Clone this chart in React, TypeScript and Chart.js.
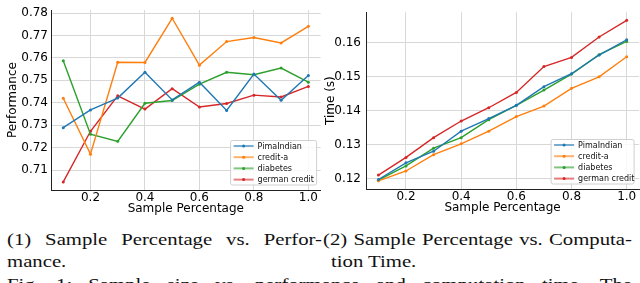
import React, { useEffect, useRef } from "react";
import { Chart, registerables } from "chart.js";

Chart.register(...registerables);

const samplePct = [0.1, 0.2, 0.3, 0.4, 0.5, 0.6, 0.7, 0.8, 0.9, 1.0];
const seriesNames = ["PimaIndian", "credit-a", "diabetes", "german credit"];
const seriesColors = ["#1f77b4", "#ff7f0e", "#2ca02c", "#d62728"];

const perfPima = [0.7289, 0.7368, 0.7421, 0.7536, 0.7413, 0.7492, 0.7366, 0.7528, 0.7411, 0.7522];
const perfCreditA = [0.742, 0.7171, 0.7581, 0.758, 0.7777, 0.7568, 0.7673, 0.7691, 0.7667, 0.7741];
const perfDiabetes = [0.7588, 0.726, 0.7228, 0.7398, 0.741, 0.7483, 0.7536, 0.7525, 0.7555, 0.7492];
const perfGerman = [0.7047, 0.7273, 0.7431, 0.7372, 0.7463, 0.7381, 0.7397, 0.7434, 0.7426, 0.7473];

const timePima = [0.1198, 0.1247, 0.1281, 0.134, 0.1377, 0.1416, 0.1471, 0.1509, 0.1564, 0.1609];
const timeCreditA = [0.1194, 0.1223, 0.1271, 0.1303, 0.134, 0.1383, 0.1414, 0.1466, 0.15, 0.1559];
const timeDiabetes = [0.1196, 0.1238, 0.129, 0.1321, 0.1374, 0.1416, 0.1461, 0.1508, 0.1565, 0.1604];
const timeGerman = [0.1211, 0.1263, 0.1321, 0.137, 0.1409, 0.1454, 0.153, 0.1557, 0.1617, 0.1666];

const xTicks = [0.2, 0.4, 0.6, 0.8, 1.0];
const perfTicks = [0.71, 0.72, 0.73, 0.74, 0.75, 0.76, 0.77, 0.78];
const timeTicks = [0.12, 0.13, 0.14, 0.15, 0.16];

const xTitle = "Sample Percentage";
const perfTitle = "Performance";
const timeTitle = "Time (s)";

const caption1a = "(1) Sample Percentage vs. Perfor-";
const caption1b = "mance.";
const caption2a = "(2) Sample Percentage vs. Computa-";
const caption2b = "tion Time.";
const figCaption = "Fig. 1: Sample size vs. performance and computation time. The";

const FONT = "'DejaVu Sans', sans-serif";

const legendPlugin = {
  id: "mplLegend",
  afterDatasetsDraw(chart: any, _args: any, opts: any) {
    const { ctx, chartArea } = chart;
    const w = opts.width;
    const h = opts.height;
    const x = chartArea.right - opts.right - w;
    const y = chartArea.bottom - opts.bottom - h;
    ctx.save();
    ctx.beginPath();
    const r = 2;
    ctx.moveTo(x + r, y);
    ctx.lineTo(x + w - r, y);
    ctx.arcTo(x + w, y, x + w, y + r, r);
    ctx.lineTo(x + w, y + h - r);
    ctx.arcTo(x + w, y + h, x + w - r, y + h, r);
    ctx.lineTo(x + r, y + h);
    ctx.arcTo(x, y + h, x, y + h - r, r);
    ctx.lineTo(x, y + r);
    ctx.arcTo(x, y, x + r, y, r);
    ctx.closePath();
    ctx.fillStyle = "rgba(255,255,255,0.85)";
    ctx.fill();
    ctx.strokeStyle = "#d0d0d0";
    ctx.lineWidth = 1;
    ctx.stroke();
    ctx.font = `8px ${FONT}`;
    ctx.textBaseline = "middle";
    ctx.textAlign = "left";
    chart.data.datasets.forEach((ds: any, i: number) => {
      const cy = y + 5.5 + i * 11.2;
      ctx.globalAlpha = 0.6;
      ctx.strokeStyle = ds.borderColor;
      ctx.lineWidth = 2;
      ctx.beginPath();
      ctx.moveTo(x + 3, cy);
      ctx.lineTo(x + 23, cy);
      ctx.stroke();
      ctx.globalAlpha = 1;
      ctx.fillStyle = ds.borderColor;
      ctx.beginPath();
      ctx.arc(x + 13, cy, 1.5, 0, Math.PI * 2);
      ctx.fill();
      ctx.fillStyle = "#111";
      ctx.fillText(ds.label, x + 27, cy + 0.5);
    });
    ctx.restore();
  },
};

type ChartSpec = {
  series: number[][];
  yTicks: number[];
  yMin: number;
  yMax: number;
  yTitle: string;
  yWidth: number;
  yTickPad: number;
  yTitlePadTop: number;
  xHeight: number;
  xTitlePadBottom: number;
  padding: { left: number; right: number; top: number; bottom: number };
  legend: { width: number; height: number; right: number; bottom: number };
};

function LineChart({ spec, width, height }: { spec: ChartSpec; width: number; height: number }) {
  const ref = useRef<HTMLCanvasElement | null>(null);
  useEffect(() => {
    if (!ref.current) return;
    const datasets = spec.series.map((vals, i) => ({
      label: seriesNames[i],
      data: samplePct.map((x, j) => ({ x, y: vals[j] })),
      borderColor: seriesColors[i],
      backgroundColor: seriesColors[i],
      pointBackgroundColor: seriesColors[i],
      borderWidth: 1.4,
      pointRadius: 1.5,
      pointBorderWidth: 0,
      tension: 0,
      fill: false,
    }));
    const chart = new Chart(ref.current, {
      type: "line",
      data: { datasets },
      plugins: [legendPlugin],
      options: {
        animation: false,
        responsive: false,
        maintainAspectRatio: false,
        layout: { padding: spec.padding, autoPadding: false } as any,
        plugins: {
          legend: { display: false },
          tooltip: { enabled: false },
          mplLegend: spec.legend,
        } as any,
        scales: {
          x: {
            type: "linear",
            min: 0.055,
            max: 1.045,
            afterBuildTicks: (scale: any) => {
              scale.ticks = xTicks.map((v) => ({ value: v }));
            },
            afterFit: (scale: any) => {
              scale.height = spec.xHeight;
            },
            ticks: {
              padding: 1,
              color: "#000",
              font: { family: FONT, size: 12 },
              maxRotation: 0,
              callback: (v: any) => Number(v).toFixed(1),
            },
            grid: { color: "#d8d8d8", lineWidth: 1, drawTicks: false },
            border: { display: true, color: "#222", width: 1 },
            title: {
              display: true,
              text: xTitle,
              color: "#000",
              font: { family: FONT, size: 12 },
              padding: { top: 0, bottom: spec.xTitlePadBottom },
            },
          },
          y: {
            type: "linear",
            min: spec.yMin,
            max: spec.yMax,
            afterBuildTicks: (scale: any) => {
              scale.ticks = spec.yTicks.map((v) => ({ value: v }));
            },
            afterFit: (scale: any) => {
              scale.width = spec.yWidth;
            },
            ticks: {
              padding: spec.yTickPad,
              color: "#000",
              font: { family: FONT, size: 12 },
              callback: (v: any) => Number(v).toFixed(2),
            },
            grid: { color: "#d8d8d8", lineWidth: 1, drawTicks: false },
            border: { display: true, color: "#222", width: 1 },
            title: {
              display: true,
              text: spec.yTitle,
              color: "#000",
              font: { family: FONT, size: 12 },
              padding: { top: spec.yTitlePadTop, bottom: 0 },
            },
          },
        },
      } as any,
    });
    return () => chart.destroy();
  }, [spec, width, height]);
  return <canvas ref={ref} width={width} height={height} style={{ width, height, display: "block" }} />;
}

const perfSpec: ChartSpec = {
  series: [perfPima, perfCreditA, perfDiabetes, perfGerman],
  yTicks: perfTicks,
  yMin: 0.7011,
  yMax: 0.7813,
  yTitle: perfTitle,
  yWidth: 51,
  yTickPad: 3,
  yTitlePadTop: 6,
  xHeight: 28,
  xTitlePadBottom: 2.3,
  padding: { left: 0, right: 1.4, top: 4.3, bottom: 0 },
  legend: { width: 86, height: 44.5, right: 4, bottom: 5 },
};

const timeSpec: ChartSpec = {
  series: [timePima, timeCreditA, timeDiabetes, timeGerman],
  yTicks: timeTicks,
  yMin: 0.117,
  yMax: 0.169,
  yTitle: timeTitle,
  yWidth: 44,
  yTickPad: 5,
  yTitlePadTop: 1.8,
  xHeight: 29,
  xTitlePadBottom: 3.3,
  padding: { left: 0, right: 0.9, top: 0.7, bottom: 0 },
  legend: { width: 83, height: 44.5, right: 5, bottom: 5 },
};

const serif = "'Liberation Serif', 'Times New Roman', serif";
const SX = 1.22;

function Line({ text, left, top, width, justify }: { text: string; left: number; top: number; width?: number; justify?: boolean }) {
  return (
    <div
      style={{
        position: "absolute",
        left,
        top,
        width: width !== undefined ? width / SX : undefined,
        fontFamily: serif,
        fontSize: 17,
        lineHeight: "17px",
        color: "#111",
        whiteSpace: justify ? "normal" : "nowrap",
        textAlign: justify ? "justify" : "left",
        textAlignLast: justify ? "justify" : "auto",
        transform: `scaleX(${SX})`,
        transformOrigin: "0 0",
      } as any}
    >
      {text}
    </div>
  );
}

export default function App() {
  return (
    <div
      style={{
        position: "fixed",
        left: 0,
        top: 0,
        width: 640,
        height: 283,
        overflow: "hidden",
        background: "#fff",
      }}
    >
      <div style={{ position: "absolute", left: 0, top: 0 }}>
        <LineChart spec={perfSpec} width={322} height={218} />
      </div>
      <div style={{ position: "absolute", left: 322, top: 0 }}>
        <LineChart spec={timeSpec} width={318} height={218} />
      </div>
      <Line text={caption1a} left={7} top={231} width={315} justify />
      <Line text={caption2a} left={323} top={231} width={309} justify />
      <Line text={caption1b} left={7} top={253} />
      <Line text={caption2b} left={331} top={253} />
      <Line text={figCaption} left={7} top={276} width={625} justify />
    </div>
  );
}
